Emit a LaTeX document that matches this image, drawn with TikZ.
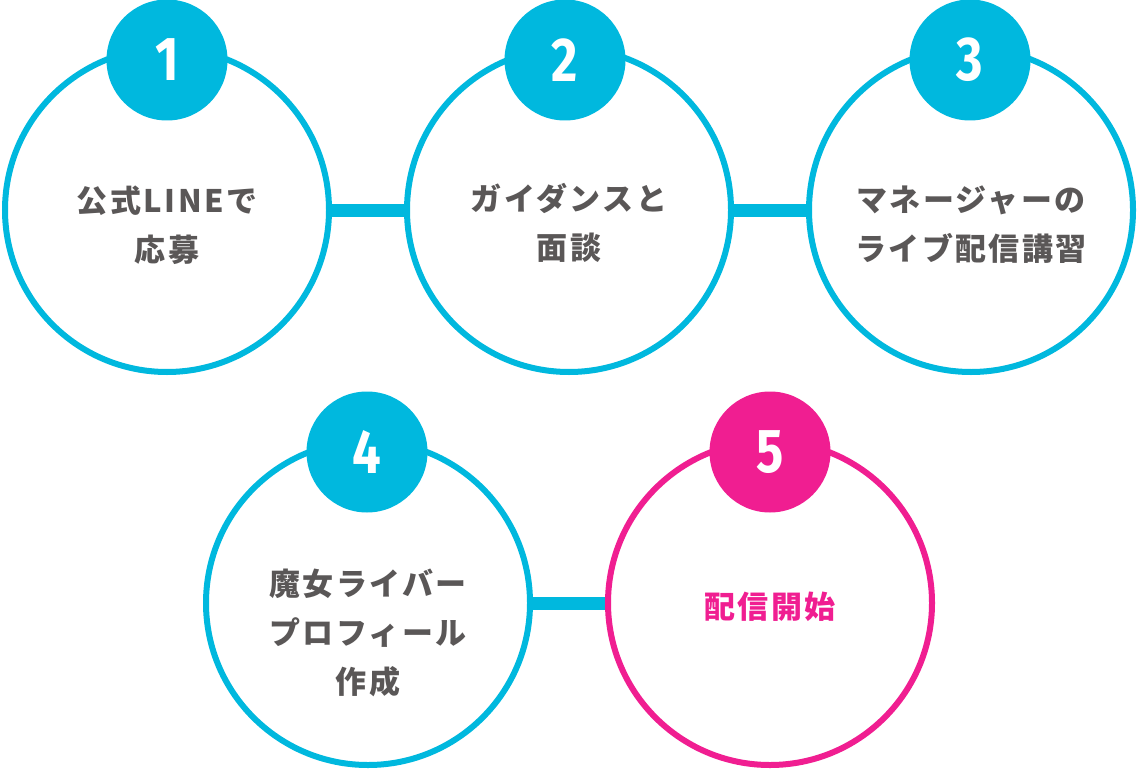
\documentclass[tikz,border=0pt]{standalone}
\usepackage{fontspec}
\newfontfamily\jp{Noto Sans CJK JP}[LetterSpace=8]
\newfontfamily\numfont{Fira Sans}
\definecolor{cy}{RGB}{0,184,222}
\definecolor{mg}{RGB}{240,30,145}
\definecolor{tx}{RGB}{90,87,87}
\tikzset{
  stepring/.style={circle,draw=#1,line width=6pt,minimum size=324pt,inner sep=0pt,fill=white},
  badge/.style={circle,fill=#1,minimum size=121pt,inner sep=0pt,text=white,
    font=\numfont\bfseries\fontsize{62}{62}\selectfont},
  bar/.style={draw=cy,line width=13pt},
  lab/.style={align=center,text=tx,font=\jp\bfseries\fontsize{31}{49}\selectfont,inner sep=0pt}
}
\begin{document}
\begin{tikzpicture}[x=1pt,y=-1pt]
\useasboundingbox (0,0) rectangle (1139,770);
\node[stepring=cy] (c1) at (167,210) {};
\node[stepring=cy] (c2) at (569,210) {};
\node[stepring=cy] (c3) at (971,210) {};
\node[stepring=cy] (c4) at (368,603) {};
\node[stepring=mg] (c5) at (770,603) {};
\draw[bar] (c1) -- (c2);
\draw[bar] (c2) -- (c3);
\draw[bar] (c4) -- (c5);
\node[badge=cy] (b1) at (167,60) {\scalebox{0.82}[1]{1}};
\node[badge=cy] (b2) at (565,60) {\scalebox{0.82}[1]{2}};
\node[badge=cy] (b3) at (970,60) {\scalebox{0.82}[1]{3}};
\node[badge=cy] (b4) at (367,452) {\scalebox{0.82}[1]{4}};
\node[badge=mg] (b5) at (770,452) {\scalebox{0.82}[1]{5}};
\node[lab] (t1) at (167,225) {公式LINEで\\応募};
\node[lab] (t2) at (569,223) {ガイダンスと\\面談};
\node[lab] (t3) at (971,225) {マネージャーの\\ライブ配信講習};
\node[lab] (t4) at (368,633) {魔女ライバー\\プロフィール\\作成};
\node[lab,text=mg] (t5) at (770,607) {配信開始};
\end{tikzpicture}
\end{document}
